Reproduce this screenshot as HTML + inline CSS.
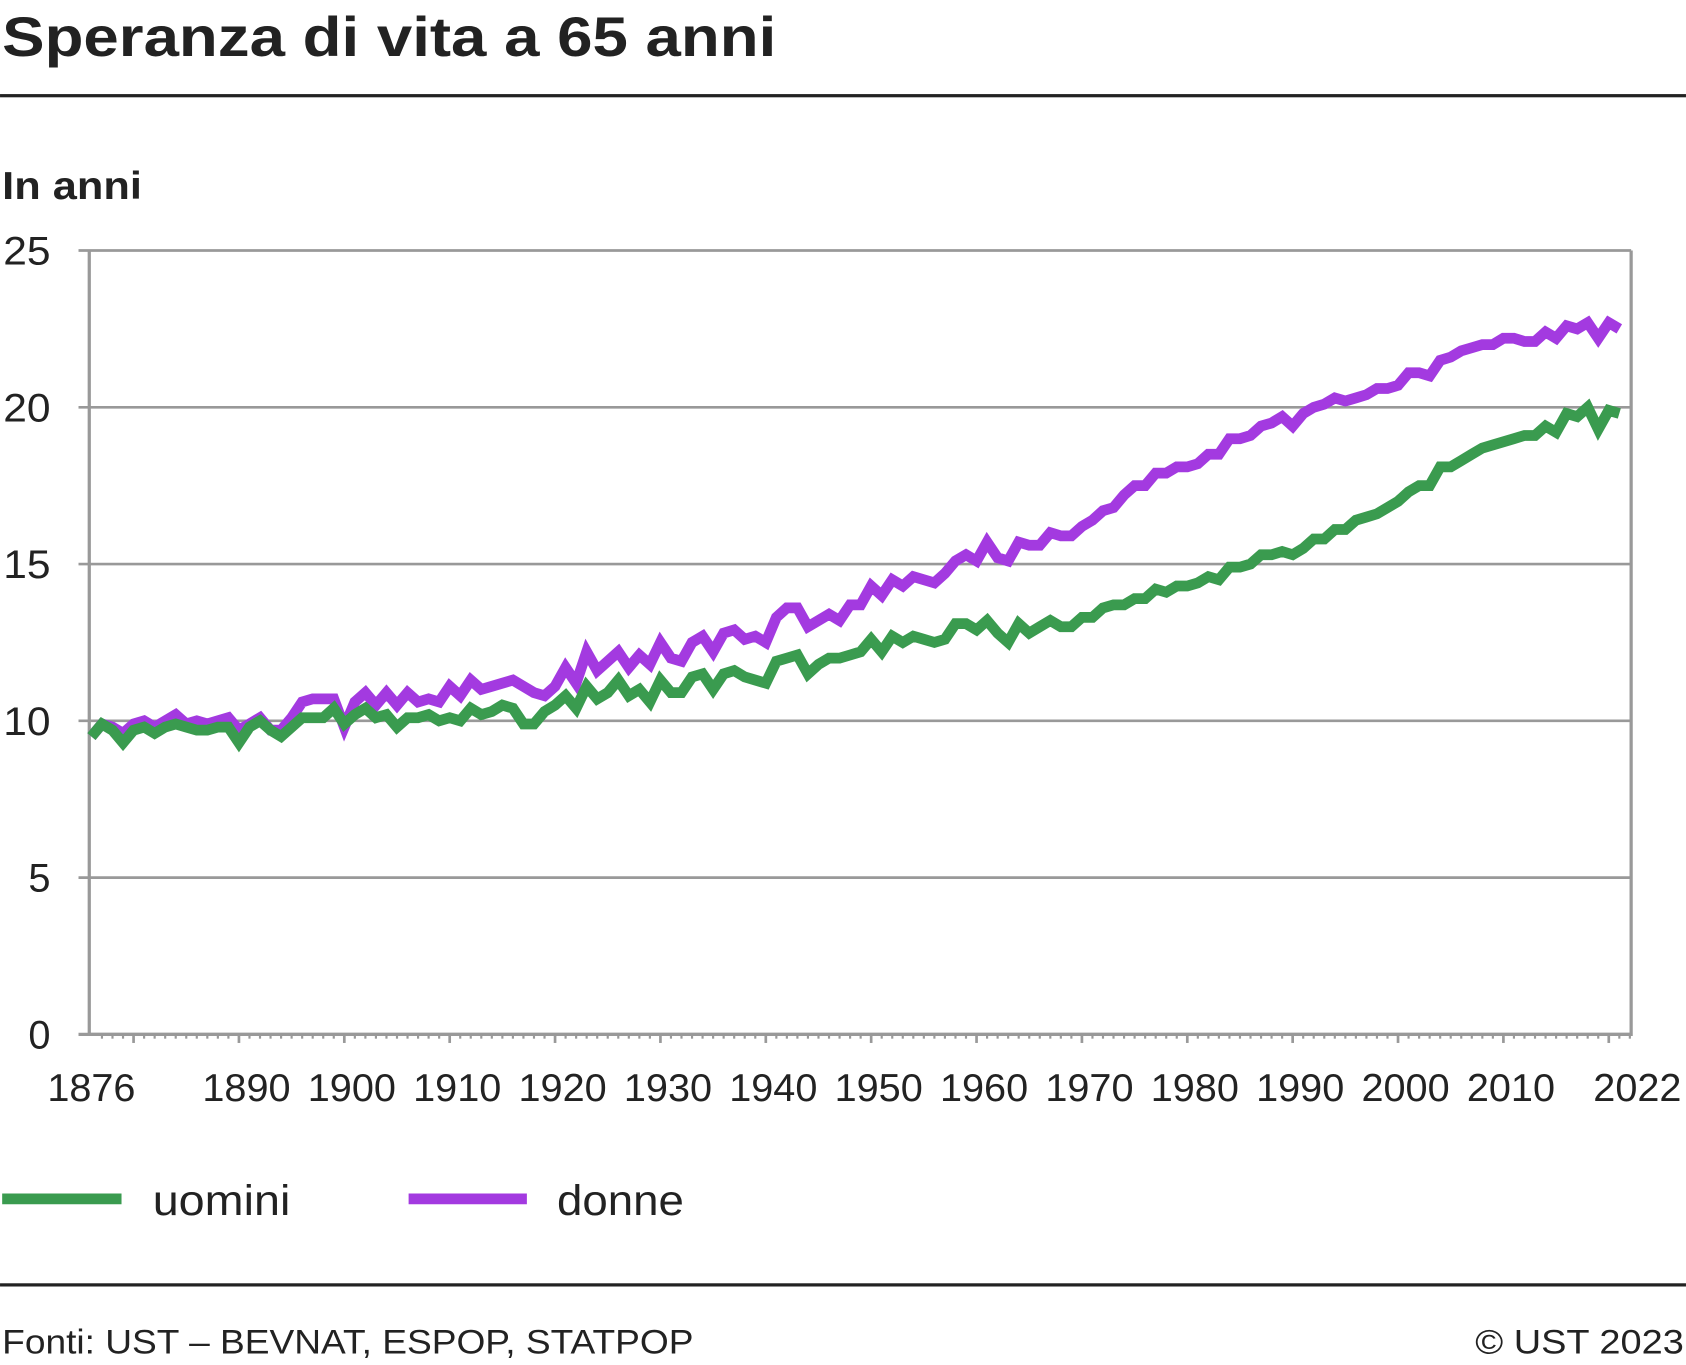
<!DOCTYPE html>
<html><head><meta charset="utf-8"><style>
html,body{margin:0;padding:0;background:#fff;}
svg{display:block;font-family:"Liberation Sans",sans-serif;}
</style></head><body>
<svg id="chart" width="1686" height="1365" viewBox="0 0 1568 1269.5" xmlns="http://www.w3.org/2000/svg">
<text x="2" y="52" font-size="52" font-weight="bold" fill="#222" textLength="720" lengthAdjust="spacingAndGlyphs">Speranza di vita a 65 anni</text>
<rect x="0" y="87.5" width="1568" height="3" fill="#222"/>
<text x="2" y="185" font-size="36" font-weight="bold" fill="#222" textLength="130" lengthAdjust="spacingAndGlyphs">In anni</text>
<g id="grid"></g>
<g id="series"></g>
<g>
<rect x="2" y="1110" width="111" height="10" fill="#3a9b4f"/>
<text x="142" y="1130" font-size="40" fill="#222" textLength="128" lengthAdjust="spacingAndGlyphs">uomini</text>
<rect x="380" y="1110" width="110" height="10" fill="#a33ae0"/>
<text x="518" y="1130" font-size="40" fill="#222" textLength="118" lengthAdjust="spacingAndGlyphs">donne</text>
</g>
<rect x="0" y="1193.5" width="1568" height="3" fill="#222"/>
<text x="2" y="1259" font-size="32" fill="#222" textLength="643" lengthAdjust="spacingAndGlyphs">Fonti: UST – BEVNAT, ESPOP, STATPOP</text>
<text x="1372" y="1259" font-size="32" fill="#222" textLength="194" lengthAdjust="spacingAndGlyphs">© UST 2023</text>
</svg>
<script>
const startYear = 1876;
const uomini = [9.5,9.9,9.7,9.3,9.7,9.8,9.6,9.8,9.9,9.8,9.7,9.7,9.8,9.8,9.3,9.8,10.0,9.7,9.5,9.8,10.1,10.1,10.1,10.4,9.9,10.2,10.4,10.1,10.2,9.8,10.1,10.1,10.2,10.0,10.1,10.0,10.4,10.2,10.3,10.5,10.4,9.9,9.9,10.3,10.5,10.8,10.4,11.1,10.7,10.9,11.3,10.8,11.0,10.6,11.3,10.9,10.9,11.4,11.5,11.0,11.5,11.6,11.4,11.3,11.2,11.9,12.0,12.1,11.5,11.8,12.0,12.0,12.1,12.2,12.6,12.2,12.7,12.5,12.7,12.6,12.5,12.6,13.1,13.1,12.9,13.2,12.8,12.5,13.1,12.8,13.0,13.2,13.0,13.0,13.3,13.3,13.6,13.7,13.7,13.9,13.9,14.2,14.1,14.3,14.3,14.4,14.6,14.5,14.9,14.9,15.0,15.3,15.3,15.4,15.3,15.5,15.8,15.8,16.1,16.1,16.4,16.5,16.6,16.8,17.0,17.3,17.5,17.5,18.1,18.1,18.3,18.5,18.7,18.8,18.9,19.0,19.1,19.1,19.4,19.2,19.8,19.7,20.0,19.3,19.9,19.8];
const donne = [9.5,9.9,9.8,9.6,9.9,10.0,9.8,10.0,10.2,9.9,10.0,9.9,10.0,10.1,9.7,9.9,10.1,9.7,9.7,10.1,10.6,10.7,10.7,10.7,9.8,10.6,10.9,10.5,10.9,10.5,10.9,10.6,10.7,10.6,11.1,10.8,11.3,11.0,11.1,11.2,11.3,11.1,10.9,10.8,11.1,11.7,11.2,12.2,11.6,11.9,12.2,11.7,12.1,11.8,12.5,12.0,11.9,12.5,12.7,12.2,12.8,12.9,12.6,12.7,12.5,13.3,13.6,13.6,13.0,13.2,13.4,13.2,13.7,13.7,14.3,14.0,14.5,14.3,14.6,14.5,14.4,14.7,15.1,15.3,15.1,15.7,15.2,15.1,15.7,15.6,15.6,16.0,15.9,15.9,16.2,16.4,16.7,16.8,17.2,17.5,17.5,17.9,17.9,18.1,18.1,18.2,18.5,18.5,19.0,19.0,19.1,19.4,19.5,19.7,19.4,19.8,20.0,20.1,20.3,20.2,20.3,20.4,20.6,20.6,20.7,21.1,21.1,21.0,21.5,21.6,21.8,21.9,22.0,22.0,22.2,22.2,22.1,22.1,22.4,22.2,22.6,22.5,22.7,22.2,22.7,22.5];
const yTicks = [0,5,10,15,20,25];
const xLabels = [1876,1890,1900,1910,1920,1930,1940,1950,1960,1970,1980,1990,2000,2010,2022];

const NS = "http://www.w3.org/2000/svg";
const L = 83, R = 1517, T = 233, B = 962;
const xs = yr => 85 + (yr - 1876) * 9.8;
const ys = v => B - (v / 25) * (B - T);
const grid = document.getElementById('grid');
const series = document.getElementById('series');
function mk(tag, attrs, parent) {
  const e = document.createElementNS(NS, tag);
  for (const k in attrs) e.setAttribute(k, attrs[k]);
  parent.appendChild(e);
  return e;
}
yTicks.forEach(t => {
  const y = ys(t);
  if (t > 0) {
    const g = mk('line', {x1: L - 10, x2: R, y1: y, y2: y, stroke: '#999', 'stroke-width': 2.5}, grid);
    
    
  }
  const attrs = {x: 47, y: y + 13, 'font-size': 37, fill: '#222', 'text-anchor': 'end'};
  if (t >= 10) { attrs.textLength = 44; attrs.lengthAdjust = 'spacingAndGlyphs'; }
  const tx = mk('text', attrs, grid);
  tx.textContent = t;
  
  
});
const ax = mk('path', {d: `M${L},${T} V${B} H${R} V${T}`, fill: 'none', stroke: '#999', 'stroke-width': 3}, grid);


const bl = mk('line', {x1: L - 10, x2: R, y1: B, y2: B, stroke: '#999', 'stroke-width': 3}, grid);


for (let yr = 1877; yr <= 2022; yr++) {
  const major = yr % 10 === 0;
  const tk = mk('line', {x1: xs(yr), x2: xs(yr), y1: B, y2: B + (major ? 8 : 4), stroke: '#999', 'stroke-width': major ? 2.5 : 2}, grid);
  
  
}
xLabels.forEach(yr => {
  const off = (yr === 1876) ? 0 : 7;
  const tx = mk('text', {x: xs(yr) + off, y: 1024, 'font-size': 36, fill: '#222', 'text-anchor': 'middle', textLength: 82, lengthAdjust: 'spacingAndGlyphs'}, grid);
  tx.textContent = yr;
  
  
});
function drawLine(vals, color, name) {
  const d = vals.map((v, i) => (i ? 'L' : 'M') + xs(startYear + i).toFixed(1) + ',' + ys(v).toFixed(1)).join(' ');
  const p = mk('path', {d: d, fill: 'none', stroke: color, 'stroke-width': 10, 'stroke-linejoin': 'miter', 'stroke-miterlimit': 3}, series);
  
  
}
drawLine(donne, '#a33ae0', 'line-donne');
drawLine(uomini, '#3a9b4f', 'line-uomini');
</script>
</body></html>
